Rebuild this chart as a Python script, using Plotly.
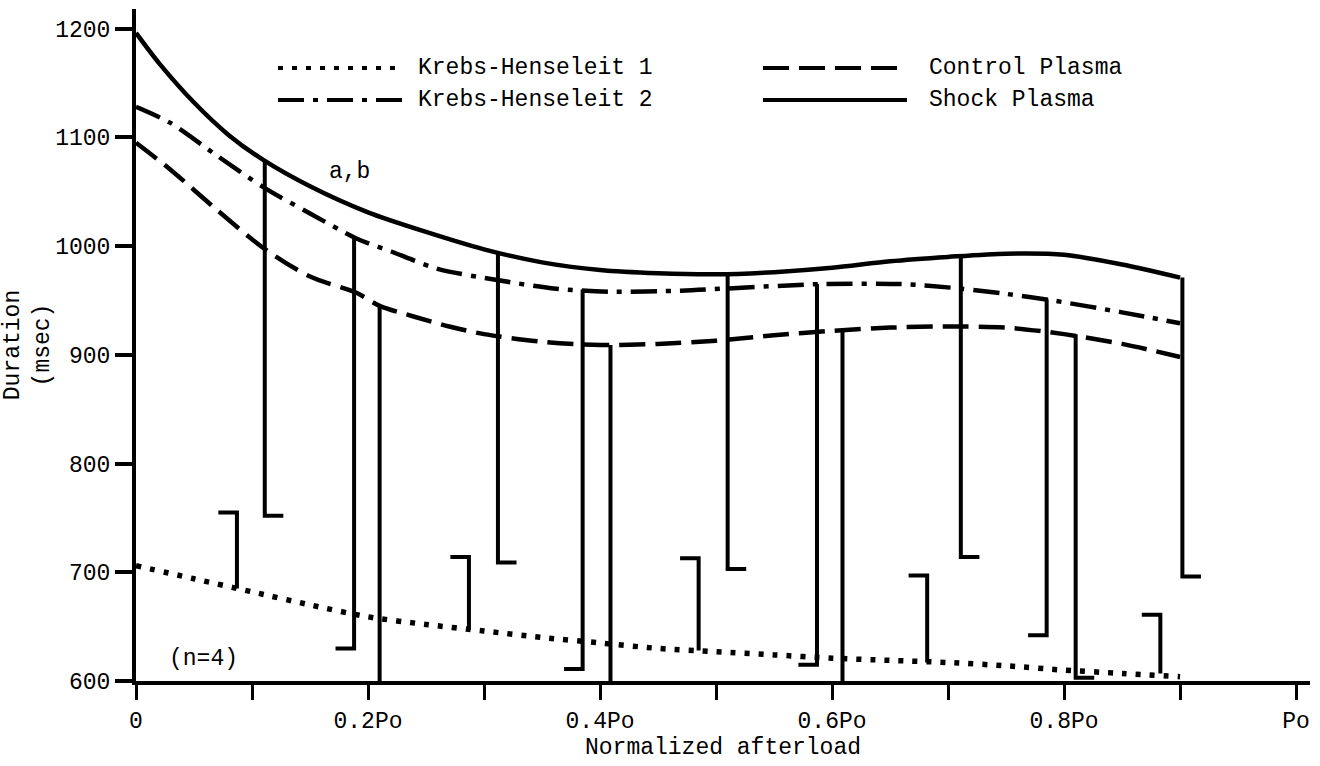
import plotly.graph_objects as go

# ---------------- data ----------------
# mean curves (Duration, msec) vs normalized afterload (fraction of Po)
kh1_x = [0, 0.05, 0.1, 0.15, 0.2, 0.25, 0.3, 0.35, 0.4, 0.45, 0.5, 0.55, 0.6, 0.65, 0.7, 0.75, 0.8, 0.85, 0.9]
kh1_y = [706, 694, 682, 670, 659, 652, 646, 640, 635, 630, 627, 624, 621, 619, 617, 614, 610, 607, 604]

kh2_x = [0, 0.03, 0.07, 0.11, 0.15, 0.19, 0.22, 0.26, 0.31, 0.36, 0.41, 0.47, 0.51, 0.59, 0.66, 0.71, 0.75, 0.79, 0.85, 0.9]
kh2_y = [1128, 1113, 1083, 1054, 1030, 1007, 995, 979, 969, 961, 958, 959, 961, 965, 965, 961, 956, 950, 939, 929]

ctrl_x = [0, 0.03, 0.07, 0.11, 0.15, 0.19, 0.21, 0.24, 0.27, 0.3, 0.35, 0.4, 0.45, 0.5, 0.55, 0.6, 0.65, 0.7, 0.75, 0.8, 0.85, 0.9]
ctrl_y = [1095, 1070, 1033, 998, 972, 957, 945, 935, 926, 919, 912, 909, 910, 913, 918, 922, 925, 926, 925, 919, 910, 898]

shock_x = [0, 0.02, 0.05, 0.08, 0.11, 0.15, 0.2, 0.25, 0.3, 0.35, 0.4, 0.45, 0.5, 0.55, 0.6, 0.65, 0.7, 0.75, 0.8, 0.85, 0.9]
shock_y = [1196, 1168, 1132, 1102, 1079, 1055, 1031, 1013, 997, 985, 978, 975, 974, 976, 980, 986, 990, 993, 992, 983, 971]

# one-sided SD bars: position, mean, SD
kh1_err_x = [0.087, 0.287, 0.485, 0.682, 0.883]
kh1_err_m = [685, 647, 628, 617, 607]
kh1_err_sd = [70, 67, 85, 80, 54]

shock_err_x = [0.111, 0.312, 0.51, 0.711, 0.902]
shock_err_m = [1078, 993, 974, 991, 971]
shock_err_sd = [326, 284, 271, 277, 275]

kh2_err_x = [0.188, 0.385, 0.587, 0.785]
kh2_err_m = [1008, 960, 965, 951]
kh2_err_sd = [378, 349, 350, 309]

ctrl_err_x = [0.21, 0.409, 0.609, 0.81]
ctrl_err_m = [945, 909, 922, 919]
ctrl_err_sd = [350, 314, 327, 316]

x_tickvals = [0, 0.1, 0.2, 0.3, 0.4, 0.5, 0.6, 0.7, 0.8, 0.9, 1.0]
x_ticktext = ["0", "", "0.2Po", "", "0.4Po", "", "0.6Po", "", "0.8Po", "", "Po"]
y_tickvals = [600, 700, 800, 900, 1000, 1100, 1200]

series_names = ["Krebs-Henseleit 1", "Krebs-Henseleit 2", "Control Plasma", "Shock Plasma"]

# ---------------- styles ----------------
FONT = "Liberation Mono, Courier New, monospace"
FS = 23
LW = 4.5
DASH_KH1 = "5px,9px"
DASH_KH2 = "26px,9px,5px,9px"
DASH_CTRL = "26px,10px"
CAP = 0.016


def bar_path(xs, ms, sds, direction, cap_side):
    px, py = [], []
    for x, m, s in zip(xs, ms, sds):
        end = m + direction * s
        px += [x, x, x + cap_side * CAP, None]
        py += [m, end, end, None]
    return px, py


fig = go.Figure()

curves = [
    (kh1_x, kh1_y, DASH_KH1, series_names[0], 5.5),
    (kh2_x, kh2_y, DASH_KH2, series_names[1], LW),
    (ctrl_x, ctrl_y, DASH_CTRL, series_names[2], LW),
    (shock_x, shock_y, "solid", series_names[3], LW),
]
for xs, ys, dash, name, w in curves:
    fig.add_trace(go.Scatter(x=xs, y=ys, mode="lines", name=name, showlegend=False,
                             line=dict(color="black", width=w, dash=dash, shape="spline", smoothing=0.8)))

bars = [
    (kh1_err_x, kh1_err_m, kh1_err_sd, +1, -1),
    (shock_err_x, shock_err_m, shock_err_sd, -1, +1),
    (kh2_err_x, kh2_err_m, kh2_err_sd, -1, -1),
    (ctrl_err_x, ctrl_err_m, ctrl_err_sd, -1, +1),
]
for xs, ms, sds, d, side in bars:
    bx, by = bar_path(xs, ms, sds, d, side)
    fig.add_trace(go.Scatter(x=bx, y=by, mode="lines", showlegend=False, hoverinfo="skip",
                             line=dict(color="black", width=4)))

# ---------------- layout ----------------
L, R, T, B = 136, 10, 9, 85
W, H = 1320, 766
pw, ph = W - L - R, H - T - B


def px2paper_x(p):
    return (p - L) / pw


def px2paper_y(p):
    return (H - B - p) / ph


shapes = []
annotations = []
legend_items = [
    (series_names[0], DASH_KH1, 278, 403, 416, 68),
    (series_names[1], DASH_KH2, 278, 403, 416, 100),
    (series_names[2], DASH_CTRL, 763, 907, 927, 68),
    (series_names[3], "solid", 763, 907, 927, 100),
]
for name, dash, x0, x1, xt, yy in legend_items:
    shapes.append(dict(type="line", xref="paper", yref="paper",
                       x0=px2paper_x(x0), x1=px2paper_x(x1), y0=px2paper_y(yy), y1=px2paper_y(yy),
                       line=dict(color="black", width=4, dash=dash)))
    annotations.append(dict(text=name, xref="paper", yref="paper", x=px2paper_x(xt), y=px2paper_y(yy),
                            xanchor="left", yanchor="middle", showarrow=False,
                            font=dict(family=FONT, size=FS, color="black")))

annotations.append(dict(text="a,b", x=0.184, y=1068, xref="x", yref="y", showarrow=False,
                        font=dict(family=FONT, size=FS, color="black")))
annotations.append(dict(text="(n=4)", x=0.058, y=620, xref="x", yref="y", showarrow=False,
                        font=dict(family=FONT, size=FS, color="black")))

fig.update_layout(
    width=W, height=H,
    margin=dict(l=L, r=R, t=T, b=B, autoexpand=False),
    paper_bgcolor="white", plot_bgcolor="white",
    showlegend=False,
    font=dict(family=FONT, size=FS, color="black"),
    shapes=shapes, annotations=annotations,
    xaxis=dict(range=[0, 1.012], showgrid=False, zeroline=False, showline=True, linewidth=4, linecolor="black",
               ticks="outside", ticklen=15, tickwidth=3, tickcolor="black",
               tickvals=x_tickvals, ticktext=x_ticktext,
               tickfont=dict(family=FONT, size=FS),
               title=dict(text="Normalized afterload", font=dict(family=FONT, size=FS), standoff=2)),
    yaxis=dict(range=[600, 1218], showgrid=False, zeroline=False, showline=True, linewidth=4, linecolor="black",
               ticks="outside", ticklen=17, tickwidth=4, tickcolor="black",
               tickvals=y_tickvals, tickfont=dict(family=FONT, size=FS),
               title=dict(text="Duration<br>(msec)", font=dict(family=FONT, size=FS), standoff=2)),
)

fig.write_html("out.html")
